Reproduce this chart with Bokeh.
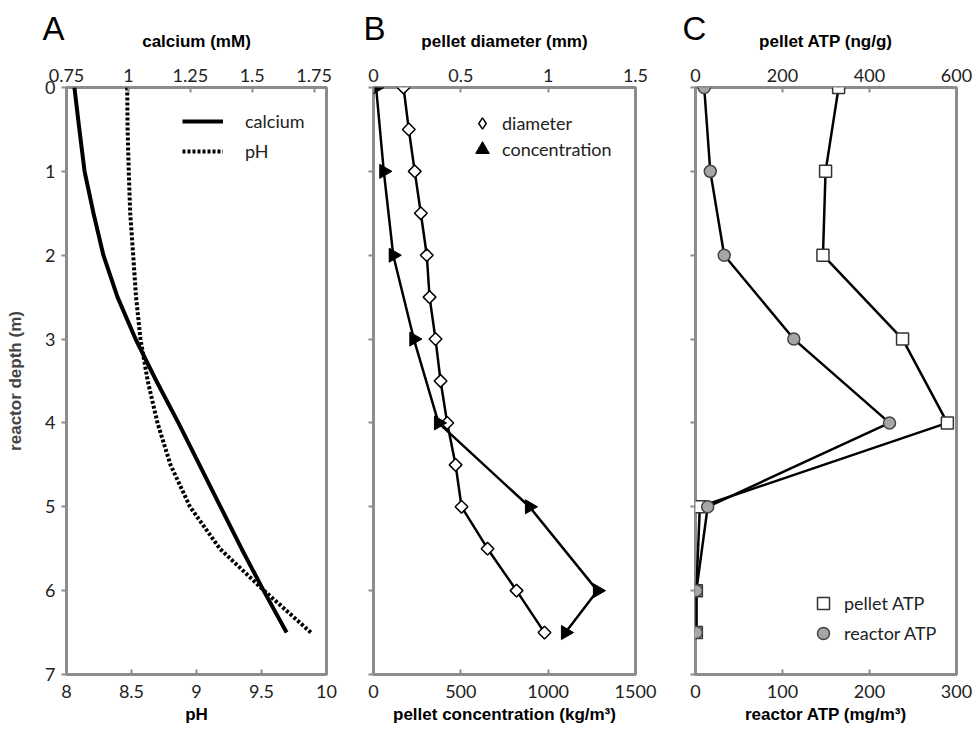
import numpy as np
from bokeh.plotting import figure
from bokeh.models import (Range1d, LinearAxis, FixedTicker, NumeralTickFormatter,
                          Legend, LegendItem)
from bokeh.layouts import row
from bokeh.embed import file_html
from bokeh.resources import INLINE

# ---------------- data ----------------
# Panel A: profiles along reactor depth
depth_profile = [0, 0.5, 1, 1.5, 2, 2.5, 3, 3.5, 4, 4.5, 5, 5.5, 6, 6.5]
calcium_mM = [0.782, 0.802, 0.823, 0.859, 0.899, 0.956, 1.029, 1.113, 1.202,
              1.287, 1.372, 1.457, 1.546, 1.639]
pH_values = [8.467, 8.470, 8.479, 8.490, 8.513, 8.535, 8.569, 8.625, 8.700,
             8.800, 8.950, 9.180, 9.520, 9.880]

# Panel B
depth_diameter = [0, 0.5, 1, 1.5, 2, 2.5, 3, 3.5, 4, 4.5, 5, 5.5, 6, 6.5]
diameter_mm = [0.172, 0.202, 0.236, 0.271, 0.305, 0.321, 0.355, 0.384, 0.422,
               0.470, 0.504, 0.653, 0.819, 0.979]
depth_conc = [0, 1, 2, 3, 4, 5, 6, 6.5]
concentration = [15, 59, 113, 231, 372, 893, 1282, 1099]

# Panel C
depth_atp = [0, 1, 2, 3, 4, 5, 6, 6.5]
pellet_atp = [329, 299, 293, 476, 579, 10, 2, 2]
reactor_atp = [10, 17, 33, 113, 223, 14, 1, 1]

# ticks
depth_ticks = [0, 1, 2, 3, 4, 5, 6, 7]
ph_ticks = [8, 8.5, 9, 9.5, 10]
calcium_ticks = [0.75, 1, 1.25, 1.5, 1.75]
diam_ticks = [0, 0.5, 1, 1.5]
conc_ticks = [0, 500, 1000, 1500]
patp_ticks = [0, 200, 400, 600]
ratp_ticks = [0, 100, 200, 300]

# ---------------- styling ----------------
H = 730
GRAY = "#8c8c8c"
TICK_FONT = "Lato"
TITLE_FONT = "Liberation Sans"


def style_x(ax, ticks, label, top):
    ax.ticker = FixedTicker(ticks=ticks)
    ax.formatter = NumeralTickFormatter(format="0.[00]")
    ax.axis_line_color = None
    ax.major_tick_line_color = GRAY
    ax.major_tick_line_width = 2
    ax.major_tick_in = 5
    ax.major_tick_out = 0
    ax.minor_tick_line_color = None
    ax.major_label_text_font = TICK_FONT
    ax.major_label_text_font_size = "18px"
    ax.major_label_text_color = "#222222"
    ax.axis_label = label
    ax.axis_label_text_font = TITLE_FONT
    ax.axis_label_text_font_size = "17px"
    ax.axis_label_text_font_style = "bold"
    ax.axis_label_text_color = "black"
    if top:
        ax.major_label_standoff = 6
        ax.axis_label_standoff = 15
    else:
        ax.major_label_standoff = 10
        ax.axis_label_standoff = 4


def make_panel(width, left, right, xr, xtop, bticks, tticks, blabel, tlabel,
               show_y, letter, letter_offset):
    p = figure(width=width, height=H, x_range=Range1d(*xr), y_range=Range1d(7, 0),
               output_backend="svg", toolbar_location=None,
               min_border_left=left, min_border_right=right,
               min_border_top=87, min_border_bottom=56)
    p.extra_x_ranges = {"top": Range1d(*xtop)}
    top_axis = LinearAxis(x_range_name="top")
    p.add_layout(top_axis, "above")
    p.grid.visible = False
    p.outline_line_color = GRAY
    p.outline_line_width = 3
    p.background_fill_color = "white"
    p.border_fill_color = "white"
    style_x(p.below[0], bticks, blabel, False)
    style_x(top_axis, tticks, tlabel, True)
    ya = p.left[0]
    ya.ticker = FixedTicker(ticks=depth_ticks)
    ya.axis_line_color = None
    ya.major_tick_line_color = GRAY
    ya.major_tick_line_width = 2
    ya.major_tick_in = 0
    ya.major_tick_out = 5
    ya.minor_tick_line_color = None
    ya.major_label_standoff = 6
    ya.major_label_text_font = TICK_FONT
    ya.major_label_text_font_size = "18px"
    ya.major_label_text_color = "#222222"
    if show_y:
        ya.axis_label = "reactor depth (m)"
        ya.axis_label_text_font = TITLE_FONT
        ya.axis_label_text_font_size = "17px"
        ya.axis_label_text_font_style = "bold"
        ya.axis_label_standoff = 17
    else:
        ya.major_label_text_color = None
    # panel letter as the plot title
    t = p.title
    t.text = letter
    t.text_font = TITLE_FONT
    t.text_font_size = "33px"
    t.text_font_style = "normal"
    t.text_color = "black"
    t.align = "left"
    t.vertical_align = "bottom"
    t.offset = letter_offset
    t.standoff = -36
    return p


def legend(items, loc, gw, gh, standoff, spacing):
    return Legend(items=items, location=loc, glyph_width=gw, glyph_height=gh,
                  label_standoff=standoff, spacing=spacing, padding=0, margin=0,
                  border_line_alpha=0, background_fill_alpha=0,
                  inactive_fill_alpha=0,
                  label_text_font=TICK_FONT, label_text_font_size="18px",
                  label_text_color="#222222", label_height=20)


# ---------------- Panel A ----------------
pA = make_panel(340, 66, 14, (8, 10), (0.75, 1.8), ph_ticks, calcium_ticks,
                "pH", "calcium (mM)", True, "A", -24)
r_ca = pA.line(calcium_mM, depth_profile, x_range_name="top", line_width=4,
               line_color="black")
r_ph = pA.line(pH_values, depth_profile, line_width=4, line_color="black",
               line_dash="3 2")
pA.add_layout(legend([LegendItem(label="calcium", renderers=[r_ca]),
                      LegendItem(label="pH", renderers=[r_ph])],
                     (116, 508), 41, 30, 22, -4))

# ---------------- Panel B ----------------
pB = make_panel(320, 33, 25, (0, 1500), (0, 1.5), conc_ticks, diam_ticks,
                "pellet concentration (kg/m³)", "pellet diameter (mm)", False, "B", -10)
pB.line(concentration, depth_conc, line_width=2.5, line_color="black")
pB.line(diameter_mm, depth_diameter, x_range_name="top", line_width=2.5,
        line_color="black")
pB.scatter(diameter_mm, depth_diameter, x_range_name="top", marker="square",
           angle=np.pi / 4, size=9, fill_color="white", line_color="black",
           line_width=1.5)
r_conc = pB.scatter(concentration, depth_conc, marker="triangle", angle=-np.pi / 2,
                    size=14, fill_color="black", line_color="black", line_width=1)
# hidden twin of the diamond series, used only for its (unrotated) legend key
r_diam_key = pB.scatter(diameter_mm, depth_diameter, x_range_name="top",
                        marker="diamond", fill_color="white", line_color="black",
                        line_width=1.5, visible=False)
pB.add_layout(legend([LegendItem(label="diameter", renderers=[r_diam_key])],
                     (95, 537), 28, 28, 6, 0))
pB.add_layout(legend([LegendItem(label="concentration", renderers=[r_conc])],
                     (92, 508), 34, 34, 3, 0))

# ---------------- Panel C ----------------
pC = make_panel(312, 35, 16, (0, 300), (0, 600), ratp_ticks, patp_ticks,
                "reactor ATP (mg/m³)", "pellet ATP (ng/g)", False, "C", -13)
pC.line(pellet_atp, depth_atp, x_range_name="top", line_width=2.5, line_color="black")
pC.line(reactor_atp, depth_atp, line_width=2.5, line_color="black")
r_p = pC.scatter(pellet_atp, depth_atp, x_range_name="top", marker="square", size=12,
                 fill_color="white", line_color="#333333", line_width=1.5)
r_r = pC.scatter(reactor_atp, depth_atp, marker="circle", size=12,
                 fill_color="#a6a6a6", line_color="#444444", line_width=1.5)
pC.add_layout(legend([LegendItem(label="pellet ATP", renderers=[r_p]),
                      LegendItem(label="reactor ATP", renderers=[r_r])],
                     (113, 26), 30, 30, 6, -4))

layout = row(pA, pB, pC)
open("out.html", "w").write(file_html(layout, INLINE))
